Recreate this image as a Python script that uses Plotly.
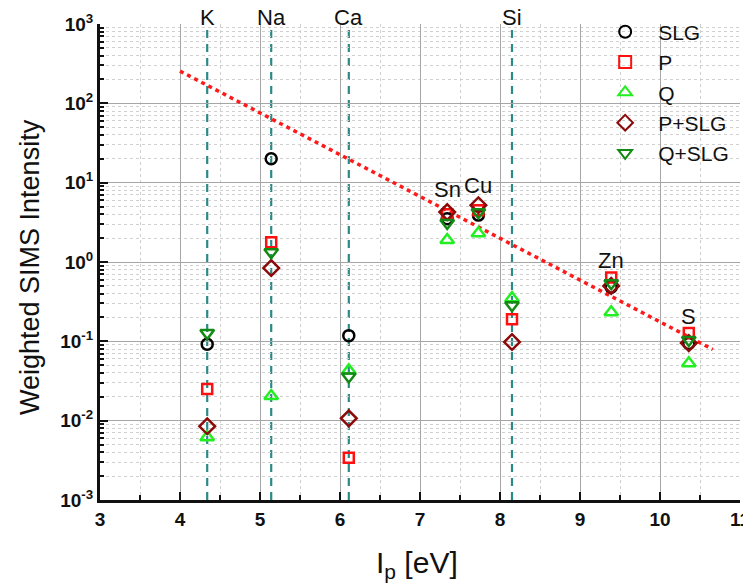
import plotly.graph_objects as go

# ---- data ----
elements = ["K", "Na", "Ca", "Sn", "Cu", "Si", "Zn", "S"]
ip_ev = [4.34, 5.14, 6.11, 7.34, 7.73, 8.15, 9.39, 10.36]
slg = [0.092, 20.0, 0.118, 3.5, 3.9, None, 0.48, 0.094]
p = [0.025, 1.78, 0.0034, 4.0, 4.5, 0.19, 0.64, 0.127]
q = [0.0062, 0.0204, 0.043, 1.89, 2.3, 0.35, 0.233, 0.053]
p_slg = [0.0085, 0.84, 0.0107, 4.26, 5.2, 0.098, 0.5, 0.095]
q_slg = [0.127, 1.33, 0.036, 3.1, 4.25, 0.285, 0.54, 0.104]

fit_x = [4.0, 10.66]
fit_y = [255.0, 0.079]

line_elements = ["K", "Na", "Ca", "Si"]          # dashed verticals, labelled at top
point_labels = ["Sn", "Cu", "Zn", "S"]           # labels above data groups
point_label_logy = [0.91, 0.97, 0.02, -0.69]

y_tickvals = [1e-3, 1e-2, 1e-1, 1e0, 1e1, 1e2, 1e3]
y_ticktext = ["<b>10<sup>-3</sup></b>", "<b>10<sup>-2</sup></b>", "<b>10<sup>-1</sup></b>",
              "<b>10<sup>0</sup></b>", "<b>10<sup>1</sup></b>", "<b>10<sup>2</sup></b>",
              "<b>10<sup>3</sup></b>"]
x_tickvals = [3, 4, 5, 6, 7, 8, 9, 10, 11]
x_ticktext = ["<b>%d</b>" % v for v in x_tickvals]

FONT = "Arial, Liberation Sans, sans-serif"

fig = go.Figure()

# trend line
fig.add_trace(go.Scatter(x=fit_x, y=fit_y, mode="lines",
                         line=dict(color="#ff1a1a", width=3.5, dash="4px,4px"),
                         showlegend=False, hoverinfo="skip"))

series = [
    ("SLG", slg, "circle-open", "#000000", 11),
    ("P", p, "square-open", "#ff1010", 10),
    ("Q", q, "triangle-up-open", "#22ee22", 12),
    ("P+SLG", p_slg, "diamond-open", "#8b0a0a", 12),
    ("Q+SLG", q_slg, "triangle-down-open", "#138a13", 12),
]
for name, vals, sym, col, sz in series:
    fig.add_trace(go.Scatter(x=ip_ev, y=vals, mode="markers", name=name,
                             marker=dict(symbol=sym, size=sz, color=col,
                                         line=dict(color=col, width=2.5))))

# dashed vertical lines + top labels
for el in line_elements:
    xv = ip_ev[elements.index(el)]
    fig.add_shape(type="line", xref="x", yref="paper", x0=xv, x1=xv, y0=0, y1=1,
                  line=dict(color="#2a8a88", width=2.2, dash="8px,6px"), layer="below")
    fig.add_annotation(x=xv, xref="x", y=1, yref="paper", text=el, showarrow=False,
                       yanchor="middle", yshift=7, font=dict(family=FONT, size=22, color="#111"))

for el, ly in zip(point_labels, point_label_logy):
    xv = ip_ev[elements.index(el)]
    fig.add_annotation(x=xv, xref="x", y=ly, yref="y", text=el, showarrow=False,
                       font=dict(family=FONT, size=22, color="#111"))

# y title
fig.add_annotation(x=-0.109, xref="paper", y=0.49, yref="paper",
                   text="Weighted SIMS Intensity", textangle=-90, showarrow=False,
                   xanchor="center", yanchor="middle",
                   font=dict(family=FONT, size=27, color="#111"))
# x title
fig.add_annotation(x=0.495, xref="paper", y=-0.135, yref="paper",
                   text="I<sub>p</sub> [eV]", showarrow=False,
                   xanchor="center", yanchor="middle",
                   font=dict(family=FONT, size=30, color="#111"))

# page body has an 8px default margin; size/margins compensate so the plot lands in place
fig.update_layout(
    width=743, height=578,
    margin=dict(l=92, r=11, t=16, b=86, autoexpand=False),
    paper_bgcolor="white", plot_bgcolor="white",
    font=dict(family=FONT, color="#111"),
    legend=dict(x=0.769, y=1.026, xanchor="left", yanchor="top", itemwidth=56,
                bgcolor="rgba(0,0,0,0)", font=dict(family=FONT, size=21, color="#111"),
                tracegroupgap=0, itemsizing="constant"),
    xaxis=dict(range=[3, 11], tickmode="array", tickvals=x_tickvals, ticktext=x_ticktext,
               ticks="inside", ticklen=8, tickwidth=2, automargin=False,
               ticklabeloverflow="allow",
               tickcolor="#111", showline=True, linewidth=3, linecolor="#111",
               showgrid=True, gridcolor="#a6a6a6", gridwidth=1, zeroline=False,
               tickfont=dict(family=FONT, size=19, color="#111"),
               minor=dict(dtick=0.5, tick0=3, ticks="inside", ticklen=5, tickwidth=2, tickcolor="#111",
                          showgrid=True, gridcolor="#d0d0d0", griddash="dot", gridwidth=1)),
    yaxis=dict(type="log", range=[-3, 3], tickmode="array", tickvals=y_tickvals, ticktext=y_ticktext,
               ticks="inside", ticklen=8, tickwidth=2, tickcolor="#111", automargin=False,
               ticklabeloverflow="allow",
               showline=True, linewidth=3, linecolor="#111",
               showgrid=True, gridcolor="#a6a6a6", gridwidth=1, zeroline=False,
               tickfont=dict(family=FONT, size=19, color="#111"),
               minor=dict(dtick="D1", ticks="inside", ticklen=4, tickwidth=1.5, tickcolor="#111",
                          showgrid=True, gridcolor="#d0d0d0", griddash="dot", gridwidth=1)),
)

fig.write_html("out.html")
